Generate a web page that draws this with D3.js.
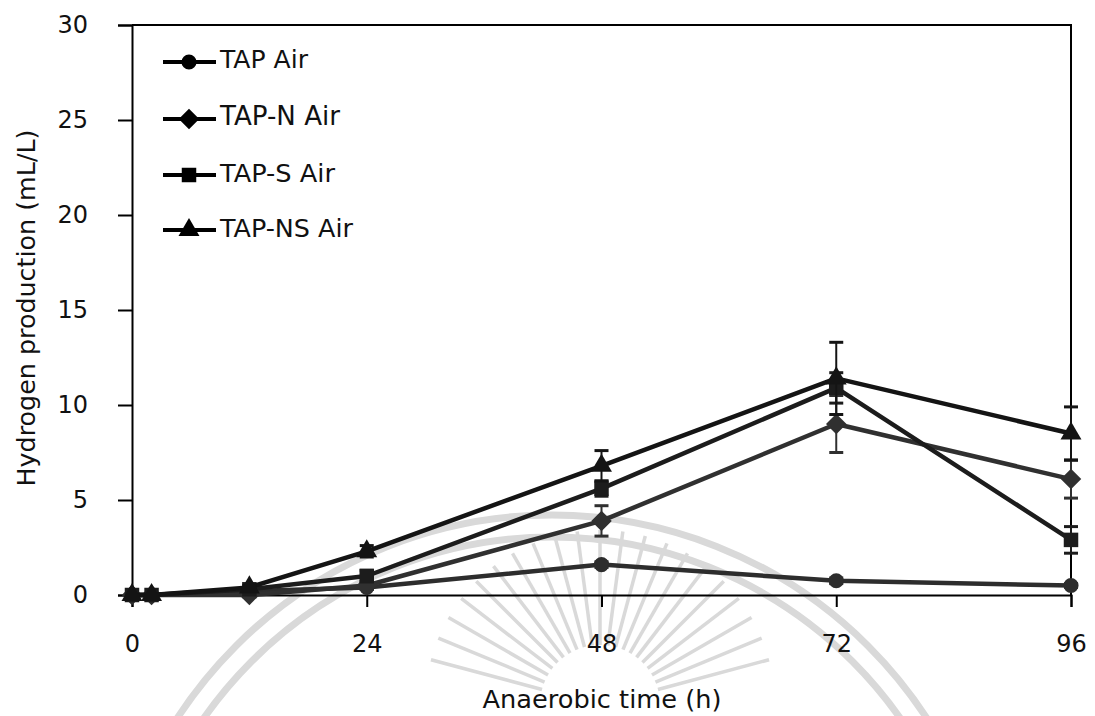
<!DOCTYPE html>
<html>
<head>
<meta charset="utf-8">
<script src="https://cdn.jsdelivr.net/npm/d3@7"></script>
<style>
  html, body { margin: 0; padding: 0; background: #fff; }
  svg { display: block; font-family: "DejaVu Sans", "Open Sans", sans-serif; }
</style>
</head>
<body>
<svg id="chart" width="1095" height="716"></svg>
<script>
// Sampling times (h)
const times = [0, 2, 12, 24, 48, 72, 96];

// Hydrogen production (mL/L) per medium, with standard deviations
const tapAir      = [0, 0, 0.2, 0.4, 1.6, 0.75, 0.5];
const tapAirErr   = [0, 0, 0.05, 0.1, 0.15, 0.15, 0.1];
const tapNAir     = [0, 0, 0.0, 0.5, 3.9, 9.0, 6.1];
const tapNAirErr  = [0, 0, 0.1, 0.2, 0.8, 1.5, 1.0];
const tapSAir     = [0, 0, 0.3, 1.0, 5.6, 10.9, 2.9];
const tapSAirErr  = [0, 0, 0.1, 0.3, 0.4, 0.8, 0.7];
const tapNSAir    = [0, 0, 0.4, 2.3, 6.8, 11.4, 8.5];
const tapNSAirErr = [0, 0, 0.1, 0.3, 0.8, 1.9, 1.4];

const seriesNames = ["TAP Air", "TAP-N Air", "TAP-S Air", "TAP-NS Air"];
const xTicks = [0, 24, 48, 72, 96];
const yTicks = [0, 5, 10, 15, 20, 25, 30];

// Diamond = square turned 45 degrees
const symbolDiamondSq = {
  draw(ctx, size) {
    const r = Math.sqrt(size / 2);
    ctx.moveTo(0, -r); ctx.lineTo(r, 0); ctx.lineTo(0, r); ctx.lineTo(-r, 0); ctx.closePath();
  }
};

const series = [
  { name: seriesNames[0], values: tapAir,   err: tapAirErr,   symbol: d3.symbolCircle,   size: 180, color: "#2d2d2d" },
  { name: seriesNames[1], values: tapNAir,  err: tapNAirErr,  symbol: symbolDiamondSq,   size: 210, color: "#303030" },
  { name: seriesNames[2], values: tapSAir,  err: tapSAirErr,  symbol: d3.symbolSquare,   size: 210, color: "#1c1c1c" },
  { name: seriesNames[3], values: tapNSAir, err: tapNSAirErr, symbol: d3.symbolTriangle, size: 190, color: "#141414" }
];

const svg = d3.select("#chart");
const plotLeft = 132, plotRight = 1071, plotTop = 25, plotBottom = 595;

const x = d3.scaleLinear().domain([0, 96]).range([plotLeft, plotRight]);
const y = d3.scaleLinear().domain([0, 30]).range([plotBottom, plotTop]);

// Size a text element so that its rendered width equals the given width
function fitWidth(sel, width) {
  const node = sel.node();
  sel.style("font-size", "20px");
  const w = node.getComputedTextLength();
  sel.style("font-size", (20 * width / w).toFixed(2) + "px");
}

// Faint emblem in the background
const emblem = svg.append("g").attr("fill", "none").attr("stroke", "#d9d9d9");
const ecx = 552, ecy = 962;
[447, 425].forEach(r => {
  emblem.append("circle").attr("cx", ecx).attr("cy", ecy).attr("r", r).attr("stroke-width", 7);
});
const rayCx = 600, rayCy = 705;
d3.range(-75, 76, 7.5).forEach(a => {
  const t = (a - 90) * Math.PI / 180;
  emblem.append("line")
    .attr("x1", rayCx + 60 * Math.cos(t)).attr("y1", rayCy + 60 * Math.sin(t))
    .attr("x2", rayCx + 175 * Math.cos(t)).attr("y2", rayCy + 175 * Math.sin(t))
    .attr("stroke-width", 3.5);
});

// Plot frame (top and right edges)
svg.append("path")
  .attr("d", `M${plotLeft},${plotTop}H${plotRight}V${plotBottom}`)
  .attr("fill", "none").attr("stroke", "#000").attr("stroke-width", 2);

// Axes
const yAxis = svg.append("g")
  .attr("transform", `translate(${plotLeft},0)`)
  .call(d3.axisLeft(y).tickValues(yTicks).tickSize(14).tickPadding(30));
const xAxis = svg.append("g")
  .attr("transform", `translate(0,${plotBottom})`)
  .call(d3.axisBottom(x).tickValues(xTicks).tickSize(12).tickPadding(28));
[xAxis, yAxis].forEach(g => {
  g.select(".domain").attr("stroke", "#000").attr("stroke-width", 2);
  g.selectAll(".tick line").attr("stroke", "#000").attr("stroke-width", 2);
  g.selectAll(".tick text").attr("fill", "#111")
    .style("font-family", '"DejaVu Sans", sans-serif').style("font-size", "24px");
});

// Axis titles
const xTitle = svg.append("text")
  .attr("x", 602).attr("y", 708)
  .attr("text-anchor", "middle").attr("fill", "#111")
  .text("Anaerobic time (h)");
fitWidth(xTitle, 239);
const yTitle = svg.append("text")
  .attr("transform", "translate(35,308) rotate(-90)")
  .attr("text-anchor", "middle").attr("fill", "#111")
  .text("Hydrogen production (mL/L)");
fitWidth(yTitle, 357);

// Series lines, error bars and markers
const line = d3.line().x((d, i) => x(times[i])).y(d => y(d));
series.forEach(s => {
  const g = svg.append("g");
  g.append("path").datum(s.values)
    .attr("d", line).attr("fill", "none")
    .attr("stroke", s.color).attr("stroke-width", 4.5).attr("stroke-linejoin", "round");
  s.values.forEach((v, i) => {
    const e = s.err[i];
    if (e <= 0) return;
    const cx = x(times[i]);
    const eb = g.append("g").attr("stroke", s.color).attr("stroke-width", 2);
    eb.append("line").attr("x1", cx).attr("x2", cx).attr("y1", y(v - e)).attr("y2", y(v + e));
    eb.append("line").attr("x1", cx - 7).attr("x2", cx + 7).attr("y1", y(v - e)).attr("y2", y(v - e)).attr("stroke-width", 3);
    eb.append("line").attr("x1", cx - 7).attr("x2", cx + 7).attr("y1", y(v + e)).attr("y2", y(v + e)).attr("stroke-width", 3);
  });
  g.selectAll("path.mark").data(s.values).join("path")
    .attr("class", "mark")
    .attr("transform", (d, i) => `translate(${x(times[i])},${y(d)})`)
    .attr("d", d3.symbol().type(s.symbol).size(s.size))
    .attr("fill", s.color);
});

// Legend
const legendMarkY = [62, 119, 175, 230];
const legendBase = [68, 125, 182, 237];
const legend = svg.append("g");
series.forEach((s, i) => {
  const ly = legendMarkY[i];
  legend.append("line").attr("x1", 163).attr("x2", 216).attr("y1", ly).attr("y2", ly)
    .attr("stroke", "#000").attr("stroke-width", 4);
  legend.append("path")
    .attr("transform", `translate(189,${ly})`)
    .attr("d", d3.symbol().type(s.symbol).size(s.size))
    .attr("fill", "#000");
  const t = legend.append("text")
    .attr("x", 220).attr("y", legendBase[i])
    .attr("fill", "#111")
    .text(s.name);
  fitWidth(t, i === 3 ? 133 : i === 0 ? 88 : i === 1 ? 120 : 115);
});
</script>
</body>
</html>
